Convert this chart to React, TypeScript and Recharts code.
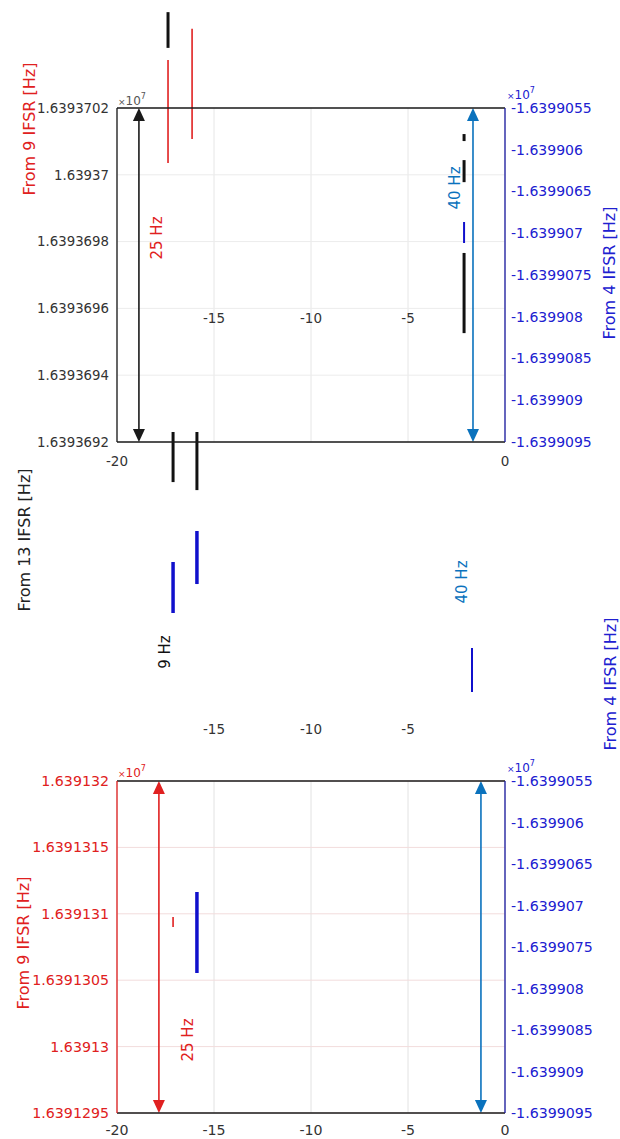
import React from 'react';
import { ComposedChart, XAxis, YAxis, CartesianGrid, ReferenceLine } from 'recharts';

// ---------- axes ----------
const X_DOMAIN: [number, number] = [-20, 0];
const X_TICKS = [-20, -15, -10, -5, 0];
const X_TICKS_EDGE = [-20, 0];
const X_TICKS_INNER = [-15, -10, -5];
const X_ROWS = X_DOMAIN.map((x) => ({ x }));

const TOP_LEFT_DOMAIN: [number, number] = [16393692, 16393702];
const TOP_LEFT_TICKS = [16393692, 16393694, 16393696, 16393698, 16393700, 16393702];
const RIGHT_DOMAIN: [number, number] = [-16399095, -16399055];
const RIGHT_TICKS = [-16399095, -16399090, -16399085, -16399080, -16399075, -16399070, -16399065, -16399060, -16399055];
const BOTTOM_LEFT_DOMAIN: [number, number] = [16391295, 16391320];
const BOTTOM_LEFT_TICKS = [16391295, 16391300, 16391305, 16391310, 16391315, 16391320];

// ---------- series (x, from, to) ----------
const topRedSegments = [
  { x: -17.37, from: 16393703.44, to: 16393700.35 },
  { x: -16.13, from: 16393704.37, to: 16393701.07 },
];
const topBlackSegments = [
  { x: -17.37, from: 16393704.87, to: 16393703.8 },
  { x: -2.11, from: 16393701.22, to: 16393701.01 },
  { x: -2.11, from: 16393700.44, to: 16393699.78 },
  { x: -2.11, from: 16393697.66, to: 16393695.26 },
  { x: -17.11, from: 16393692.3, to: 16393690.8 },
  { x: -15.88, from: 16393692.3, to: 16393690.56 },
];
const topBlueThick = [
  { x: -17.11, from: -16399109.37, to: -16399115.48 },
  { x: -15.88, from: -16399105.66, to: -16399112.01 },
];
const topBlueThin = [
  { x: -2.11, from: -16399068.65, to: -16399071.17 },
  { x: -1.7, from: -16399119.67, to: -16399124.94 },
];
const bottomRedSegments = [{ x: -17.11, from: 16391309.76, to: 16391309.01 }];
const bottomBlueSegments = [{ x: -15.88, from: -16399068.37, to: -16399078.13 }];

// double arrows: [left-axis span, right-axis span]
const topArrowX = [-18.87, -1.65];
const bottomArrowX = [-17.84, -1.24];

// ---------- styles ----------
const FONT = 'DejaVu Sans, sans-serif';
const RED = '#e02020';
const BLUE_AX = '#2020d0';
const BLUE_LINE = '#1a1aa0';
const BLUE_SEG = '#1010cc';
const MBLUE = '#0a72bd';
const GRAY_TXT = '#333333';

const fmt = (v: number) => {
  let s = (v / 1e7).toFixed(7);
  s = s.replace(/0+$/, '').replace(/\.$/, '');
  return s;
};

const tk = (fill: string, fontSize = 13) => ({ fill, fontSize, fontFamily: FONT });

const makeArrow = (color: string) => (p: any) => {
  const { x1, y1, y2 } = p;
  const top = Math.min(y1, y2);
  const bot = Math.max(y1, y2);
  const hw = 6;
  const hh = 13;
  return (
    <g>
      <line x1={x1} y1={top + hh} x2={x1} y2={bot - hh} stroke={color} strokeWidth={1.6} />
      <polygon points={`${x1},${top} ${x1 - hw},${top + hh} ${x1 + hw},${top + hh}`} fill={color} />
      <polygon points={`${x1},${bot} ${x1 - hw},${bot - hh} ${x1 + hw},${bot - hh}`} fill={color} />
    </g>
  );
};

const segs = (list: { x: number; from: number; to: number }[], yAxisId: string, color: string, w: number, key: string) =>
  list.map((s, i) => (
    <ReferenceLine
      key={key + i}
      xAxisId="a"
      yAxisId={yAxisId}
      ifOverflow="visible"
      segment={[{ x: s.x, y: s.from }, { x: s.x, y: s.to }]}
      stroke={color}
      strokeWidth={w}
    />
  ));

const TopChart = () => (
  <ComposedChart width={620} height={760} data={X_ROWS} margin={{ top: 108, right: 5, bottom: 14, left: 12 }}>
    <CartesianGrid xAxisId="t" yAxisId="L" horizontal={false} stroke="#e6e6e6" />
    <CartesianGrid xAxisId="t" yAxisId="L" vertical={false} stroke="#ececec" />
    <XAxis xAxisId="a" dataKey="x" type="number" domain={X_DOMAIN} allowDataOverflow ticks={X_TICKS_EDGE} interval={0}
      height={274} tickLine={false} tickMargin={8} axisLine={{ stroke: '#1a1a1a', strokeWidth: 1.3 }} tick={tk(GRAY_TXT, 13.5)} />
    <XAxis xAxisId="b" dataKey="x" type="number" domain={X_DOMAIN} allowDataOverflow ticks={X_TICKS_INNER} interval={0}
      height={30} tickLine={false} axisLine={false} tick={tk(GRAY_TXT, 13.5)} />
    <XAxis xAxisId="t" dataKey="x" orientation="top" mirror type="number" domain={X_DOMAIN} allowDataOverflow ticks={X_TICKS_INNER}
      interval={0} height={1} tickLine={false} tickMargin={199} axisLine={{ stroke: '#1a1a1a', strokeWidth: 1.3 }} tick={tk(GRAY_TXT, 13.5)} />
    <YAxis yAxisId="L" type="number" domain={TOP_LEFT_DOMAIN} allowDataOverflow ticks={TOP_LEFT_TICKS} interval={0}
      width={105} tickFormatter={fmt} tickLine={false} axisLine={{ stroke: '#1a1a1a', strokeWidth: 1.3 }} tick={tk(GRAY_TXT, 13.3)} />
    <YAxis yAxisId="R" orientation="right" type="number" domain={RIGHT_DOMAIN} allowDataOverflow ticks={RIGHT_TICKS} interval={0}
      width={110} tickFormatter={fmt} tickLine={false} tickMargin={0} axisLine={{ stroke: BLUE_LINE, strokeWidth: 1.3 }} tick={tk(BLUE_AX, 14)} />

    <ReferenceLine xAxisId="a" yAxisId="L" ifOverflow="visible"
      segment={[{ x: topArrowX[0], y: TOP_LEFT_DOMAIN[0] }, { x: topArrowX[0], y: TOP_LEFT_DOMAIN[1] }]}
      shape={makeArrow('#1a1a1a')} />
    <ReferenceLine xAxisId="a" yAxisId="R" ifOverflow="visible"
      segment={[{ x: topArrowX[1], y: RIGHT_DOMAIN[0] }, { x: topArrowX[1], y: RIGHT_DOMAIN[1] }]}
      shape={makeArrow(MBLUE)} />

    {segs(topRedSegments, 'L', RED, 1.6, 'tr')}
    {segs(topBlackSegments, 'L', '#111111', 3, 'tb')}
    {segs(topBlueThick, 'R', BLUE_SEG, 3.5, 'tbt')}
    {segs(topBlueThin, 'R', BLUE_SEG, 2, 'tbn')}
  </ComposedChart>
);

const BottomChart = () => (
  <ComposedChart width={620} height={379} data={X_ROWS} margin={{ top: 20, right: 5, bottom: 2, left: 12 }}>
    <CartesianGrid xAxisId="a" yAxisId="L" horizontal={false} stroke="#e2e2e2" />
    <CartesianGrid xAxisId="a" yAxisId="L" vertical={false} stroke="#f2dcdc" />
    <XAxis xAxisId="a" dataKey="x" type="number" domain={X_DOMAIN} allowDataOverflow ticks={X_TICKS} interval={0}
      height={24} tickLine={false} tickMargin={6} axisLine={{ stroke: '#1a1a1a', strokeWidth: 1.3 }} tick={tk(GRAY_TXT, 14.2)} />
    <XAxis xAxisId="t" dataKey="x" orientation="top" type="number" domain={X_DOMAIN} allowDataOverflow height={1} tick={false}
      tickLine={false} axisLine={{ stroke: '#1a1a1a', strokeWidth: 1.3 }} />
    <YAxis yAxisId="L" type="number" domain={BOTTOM_LEFT_DOMAIN} allowDataOverflow ticks={BOTTOM_LEFT_TICKS} interval={0}
      width={105} tickFormatter={fmt} tickLine={false} axisLine={{ stroke: RED, strokeWidth: 1.3 }} tick={tk(RED, 14.2)} />
    <YAxis yAxisId="R" orientation="right" type="number" domain={RIGHT_DOMAIN} allowDataOverflow ticks={RIGHT_TICKS} interval={0}
      width={110} tickFormatter={fmt} tickLine={false} tickMargin={0} axisLine={{ stroke: BLUE_LINE, strokeWidth: 1.3 }} tick={tk(BLUE_AX, 14.2)} />

    <ReferenceLine xAxisId="a" yAxisId="L" ifOverflow="visible"
      segment={[{ x: bottomArrowX[0], y: BOTTOM_LEFT_DOMAIN[0] }, { x: bottomArrowX[0], y: BOTTOM_LEFT_DOMAIN[1] }]}
      shape={makeArrow(RED)} />
    <ReferenceLine xAxisId="a" yAxisId="R" ifOverflow="visible"
      segment={[{ x: bottomArrowX[1], y: RIGHT_DOMAIN[0] }, { x: bottomArrowX[1], y: RIGHT_DOMAIN[1] }]}
      shape={makeArrow(MBLUE)} />

    {segs(bottomRedSegments, 'L', RED, 1.6, 'br')}
    {segs(bottomBlueSegments, 'R', BLUE_SEG, 3.5, 'bb')}
  </ComposedChart>
);

const VText = ({ x, y, fill, size, children }: any) => (
  <text transform={`translate(${x},${y}) rotate(-90)`} textAnchor="middle" dominantBaseline="central"
    fill={fill} fontSize={size} fontFamily={FONT}>{children}</text>
);

const Exp = ({ x, y, fill }: any) => (
  <text x={x} y={y} fill={fill} fontSize={12} fontFamily={FONT}>
    <tspan fontSize={9}>×</tspan>10<tspan dy={-6} fontSize={8}>7</tspan>
  </text>
);

export default function App() {
  return (
    <div style={{ position: 'absolute', left: 0, top: 0, width: 620, height: 1139, background: '#fff', fontFamily: FONT }}>
      <div style={{ position: 'absolute', left: 0, top: 0 }}><TopChart /></div>
      <div style={{ position: 'absolute', left: 0, top: 760 }}><BottomChart /></div>
      <svg width={620} height={1139} style={{ position: 'absolute', left: 0, top: 0, pointerEvents: 'none' }}>
        <Exp x={118} y={105} fill="#555555" />
        <Exp x={507} y={99} fill={BLUE_AX} />
        <Exp x={118} y={777} fill={RED} />
        <Exp x={507} y={772} fill={BLUE_AX} />

        <VText x={29} y={129} fill={RED} size={16}>From 9 IFSR [Hz]</VText>
        <VText x={157} y={238} fill={RED} size={15}>25 Hz</VText>
        <VText x={455} y={188} fill={MBLUE} size={15}>40 Hz</VText>
        <VText x={609} y={273} fill={BLUE_AX} size={16}>From 4 IFSR [Hz]</VText>

        <VText x={24} y={540} fill="#222222" size={16}>From 13 IFSR [Hz]</VText>
        <VText x={165} y={652} fill="#111111" size={15}>9 Hz</VText>
        <VText x={462} y={582} fill={MBLUE} size={15}>40 Hz</VText>
        <VText x={610} y={684} fill={BLUE_AX} size={16}>From 4 IFSR [Hz]</VText>

        <VText x={23} y={943} fill={RED} size={16}>From 9 IFSR [Hz]</VText>
        <VText x={188} y={1040} fill={RED} size={15}>25 Hz</VText>
      </svg>
    </div>
  );
}
